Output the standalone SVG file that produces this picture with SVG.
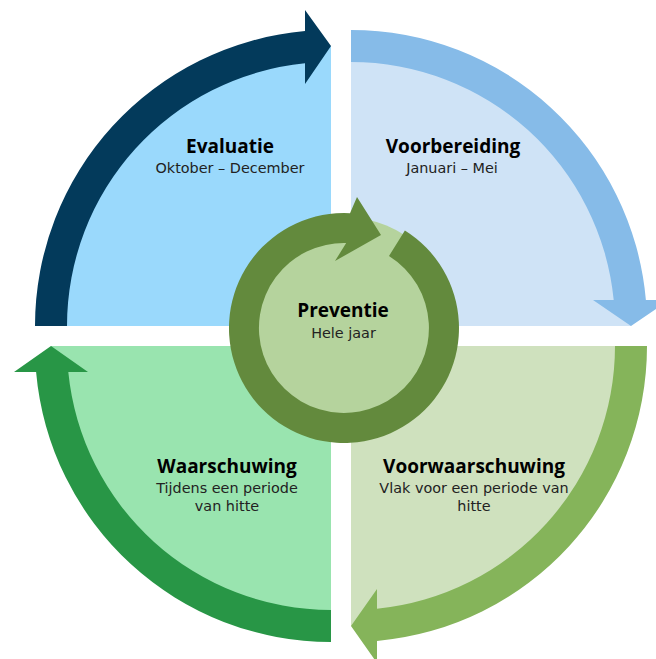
<svg xmlns="http://www.w3.org/2000/svg" width="656" height="659" viewBox="0 0 656 659">
<style>
.t{font-family:"Open Sans","Liberation Sans",sans-serif;font-weight:700;font-size:19px;fill:#000;text-anchor:middle}
.s{font-family:"DejaVu Sans","Liberation Sans",sans-serif;font-size:14.4px;fill:#222;text-anchor:middle}
</style>
<rect width="656" height="659" fill="#fff"/>
<g id="node-evaluatie">
<path d="M331 326 L51 326 A280 280 0 0 1 331 46 Z" fill="#9ad9fc"/>
<text class="t" x="230" y="152.5">Evaluatie</text>
<text class="s" x="230" y="172.5">Oktober – December</text>
</g>
<g id="node-voorbereiding">
<path d="M351 326 L351 46 A280 280 0 0 1 631 326 Z" fill="#cfe3f6"/>
<text class="t" x="453" y="152.5">Voorbereiding</text>
<text class="s" x="452" y="172.5">Januari – Mei</text>
</g>
<g id="node-voorwaarschuwing">
<path d="M351 346 L631 346 A280 280 0 0 1 351 626 Z" fill="#cfe1be"/>
<text class="t" x="474" y="473">Voorwaarschuwing</text>
<text class="s" x="474" y="493.3"><tspan x="474" y="493.3">Vlak voor een periode van</tspan><tspan x="474" y="511">hitte</tspan></text>
</g>
<g id="node-waarschuwing">
<path d="M331 346 L331 626 A280 280 0 0 1 51 346 Z" fill="#99e4af"/>
<text class="t" x="227" y="473">Waarschuwing</text>
<text class="s" x="227" y="493.3"><tspan x="227" y="493.3">Tijdens een periode</tspan><tspan x="227" y="511">van hitte</tspan></text>
</g>
<g id="connectors">
<path d="M35 326 A296 296 0 0 1 305 31.1 L305 10 L331 46 L305 84 L305 63.3 A264 264 0 0 0 67 326 Z" fill="#033a5b"/>
<path d="M351 30 A296 296 0 0 1 645.9 300 L669 300 L631 326 L593 300 L613.7 300 A264 264 0 0 0 351 62 Z" fill="#86bbe8"/>
<path d="M647 346 A296 296 0 0 1 377 640.9 L377 663 L351 626 L377 589 L377 608.7 A264 264 0 0 0 615 346 Z" fill="#85b45a"/>
<path d="M331 642 A296 296 0 0 1 36.1 372 L14 372 L51 346 L88 372 L68.3 372 A264 264 0 0 0 331 610 Z" fill="#289646"/>
</g>
<g id="node-preventie">
<circle cx="344" cy="328" r="111" fill="#b5d39d"/>
<path d="M404.9 230.5 A115 115 0 1 1 350 213.2 L357 197 L381 235 L335 261 L346.2 243 A85 85 0 1 0 389 255.9 Z" fill="#638a3d"/>
<text class="t" x="343" y="316.7">Preventie</text>
<text class="s" x="343.5" y="338">Hele jaar</text>
</g>
</svg>
